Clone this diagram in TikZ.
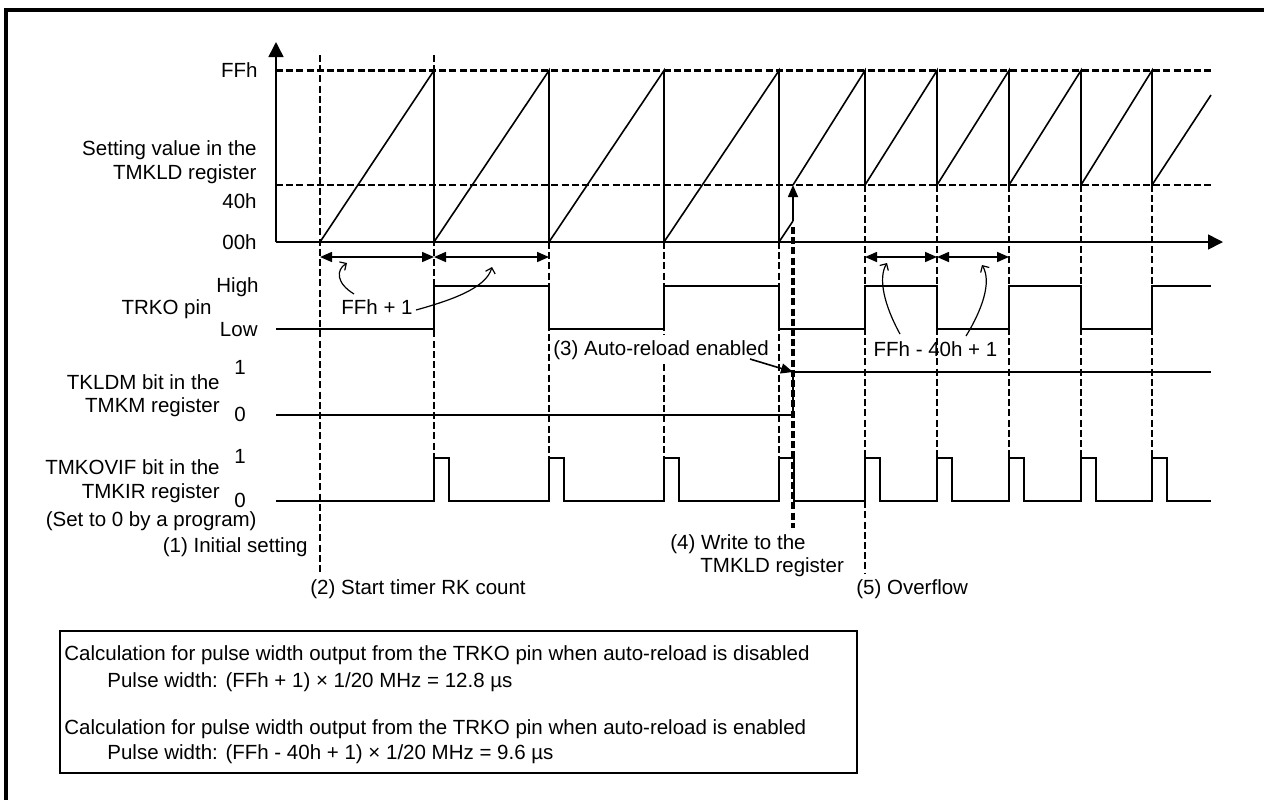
\documentclass[tikz,border=0pt]{standalone}
\usepackage{fontspec}
\setmainfont{Liberation Sans}
\usetikzlibrary{arrows.meta}

\begin{document}
\begin{tikzpicture} [x = 0.5pt, y = -0.5pt,
  every node/.style = {font = \fontsize{10.25}{12}\selectfont, inner sep = 0pt, text height = 7.3pt, text depth = 0pt},
  sig/.style = {line width = 0.8pt},
  guide/.style = {line width = 1.35pt, dash pattern = on 3.5pt off 1.6pt},
  dim/.style = {line width = 0.8pt, {Triangle[length = 6pt, width = 5pt]}-{Triangle[length = 6pt, width = 5pt]}},
  hook/.style = {line width = 0.6pt, -{Straight Barb[length = 2.5pt, width = 5pt]}},
  axisarrow/.style = {line width = 0.8pt, -{Triangle[length = 7.5pt, width = 7.5pt]}}]

\useasboundingbox (0,0) rectangle (1264,800);
\draw [line width = 2pt] (1264,10) -- (6,10) -- (6,800);

% counter axes and levels
\draw [axisarrow] (276,242) -- (276,42);
\draw [axisarrow] (276,242) -- (1223,242);
\draw [guide] (276,70.5) -- (1211,70.5);
\draw [guide] (276,185) -- (1211,185);

% guide lines
\draw [guide] (320,55) -- (320,573);
\draw [guide] (434,55) -- (434,458);
\foreach \t in {549,664,779} \draw [guide] (\t,242) -- (\t,458);
\draw [guide, line width = 1.7pt] (793,227) -- (793,528);
\draw [guide] (865,185) -- (865,573);
\foreach \t in {937,1009,1081,1152} \draw [guide] (\t,185) -- (\t,458);

% counter
\draw [sig] (320,242) -- (434,70.5) -- (434,242) -- (549,70.5) -- (549,242) -- (664,70.5) -- (664,242) -- (779,70.5) -- (779,242) -- (793,221);
\draw [sig] (793,185) -- (865,70.5) -- (865,185) -- (937,70.5) -- (937,185) -- (1009,70.5) -- (1009,185) -- (1081,70.5) -- (1081,185) -- (1152,70.5) -- (1152,185) -- (1211,95);
\draw [sig, -{Triangle[length = 6pt, width = 5pt]}] (793,221) -- (793,185);

% TRKO pin
\draw [sig] (276,329) -- (434,329) -- (434,285.7) -- (549,285.7) -- (549,329) -- (664,329) -- (664,285.7) -- (779,285.7) -- (779,329) -- (865,329) -- (865,285.7) -- (937,285.7) -- (937,329) -- (1009,329) -- (1009,285.7) -- (1081,285.7) -- (1081,329) -- (1152,329) -- (1152,285.7) -- (1211,285.7);

% TKLDM
\draw [sig] (276,415) -- (793,415) -- (793,371.7) -- (1211,371.7);

% TMKOVIF
\draw [sig] (276,500.7) foreach \t in {434,549,664,779,865,937,1009,1081,1152} { -- (\t,500.7) -- (\t,458) -- (\t+15,458) -- (\t+15,500.7) } -- (1211,500.7);

% widths
\draw [dim] (320,257) -- (434,257);
\draw [dim] (434,257) -- (549,257);
\draw [dim] (865,257) -- (937,257);
\draw [dim] (937,257) -- (1009,257);

% labels
\node [anchor = east] (ffh) at (258,70) {FFh};
\node [anchor = east] (setv1) at (257,148) {Setting value in the};
\node [anchor = east] (setv2) at (257,172) {TMKLD register};
\node [anchor = east] (h40) at (257,201) {40h};
\node [anchor = east] (h00) at (257,242) {00h};
\node [anchor = east] (high) at (259,285) {High};
\node [anchor = east] (trko) at (212,307) {TRKO pin};
\node [anchor = east] (low) at (258,329) {Low};
\node (kone) at (240,367) {1};
\node [anchor = east] (tkldm1) at (220,382) {TKLDM bit in the};
\node [anchor = east] (tkldm2) at (220,405) {TMKM register};
\node (kzero) at (240,414) {0};
\node (oone) at (240,456) {1};
\node [anchor = east] (ovif1) at (220,467) {TMKOVIF bit in the};
\node [anchor = east] (ovif2) at (220,491) {TMKIR register};
\node (ozero) at (240,500) {0};
\node [anchor = east] (ovif3) at (257,519) {(Set to 0 by a program)};
\node [anchor = east] (init) at (308,545) {(1) Initial setting};
\node [anchor = west] (start) at (310,587) {(2) Start timer RK count};
\node [anchor = west, fill = white, inner ysep = 3pt] (reload) at (553,348) {(3) Auto-reload enabled};
\node [anchor = west] (write1) at (670,542) {(4) Write to the};
\node [anchor = west] (write2) at (700,565) {TMKLD register};
\node [anchor = west] (ovf) at (856,587) {(5) Overflow};
\node (ffone) at (377,307) {FFh + 1};
\node (ffdiff) at (935.5,349) {FFh - 40h + 1};

% pointers
\draw [hook] (354,294) .. controls (336,283) and (336,270) .. (347,263);
\draw [hook] (416,310) .. controls (452,300) and (486,288) .. (492,267);
\draw [hook] (900,334) .. controls (884,305) and (878,278) .. (887,263);
\draw [hook] (966,336) .. controls (982,310) and (992,282) .. (982,265);
\coordinate (wr) at (793,372);
\draw [line width = 0.8pt, -{Triangle[length = 6pt, width = 5pt]}] (750,359) -- (wr);

% calculation box
\draw [line width = 0.8pt] (60,631) rectangle (857,773);
\node [anchor = west] (calc1) at (64,653) {Calculation for pulse width output from the TRKO pin when auto-reload is disabled};
\node [anchor = west] (calc2) at (107,680) {Pulse width: (FFh + 1) × 1/20 MHz = 12.8 µs};
\node [anchor = west] (calc3) at (64,727) {Calculation for pulse width output from the TRKO pin when auto-reload is enabled};
\node [anchor = west] (calc4) at (107,752) {Pulse width: (FFh - 40h + 1) × 1/20 MHz = 9.6 µs};
\end{tikzpicture}
\end{document}
